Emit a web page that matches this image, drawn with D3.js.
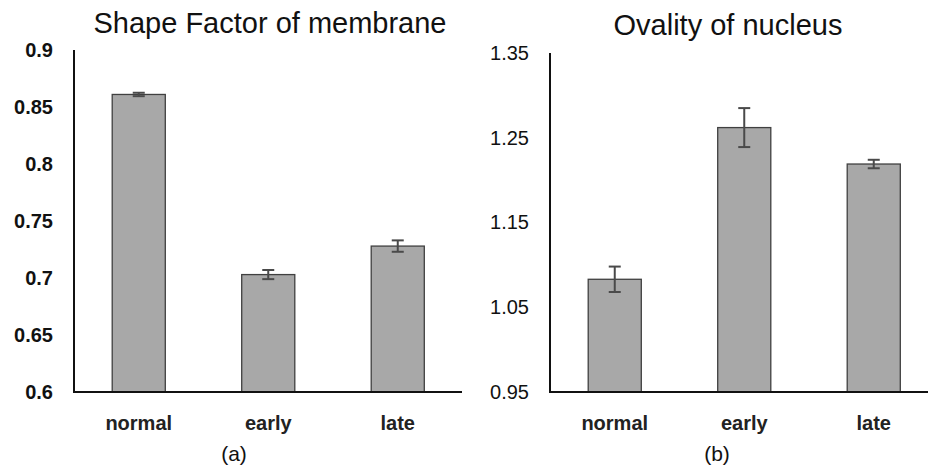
<!DOCTYPE html>
<html>
<head>
<meta charset="utf-8">
<script src="https://cdn.jsdelivr.net/npm/d3@7"></script>
<style>
  body { margin: 0; background: #fff; }
  svg { display: block; font-family: "Liberation Sans", Arial, sans-serif; }
</style>
</head>
<body>
<script>
// data
var categories = ["normal", "early", "late"];

var shapeValues = [0.861, 0.703, 0.728];
var shapeErrors = [0.0015, 0.004, 0.005];
var shapeTicks = [0.6, 0.65, 0.7, 0.75, 0.8, 0.85, 0.9];

var ovalValues = [1.083, 1.262, 1.219];
var ovalErrors = [0.015, 0.023, 0.005];
var ovalTicks = [0.95, 1.05, 1.15, 1.25, 1.35];

var svg = d3.select("body").append("svg")
    .attr("width", 928)
    .attr("height", 468);

function drawPanel(opt) {
  var x = d3.scaleBand()
      .domain(categories)
      .range([opt.left, opt.left + 388.5])
      .paddingInner(0.59)
      .paddingOuter(0.295);

  var y = d3.scaleLinear()
      .domain(opt.domain)
      .range([392, opt.top]);

  var g = svg.append("g");

  // title
  g.append("text")
      .attr("x", opt.titleX)
      .attr("y", opt.titleY)
      .attr("text-anchor", "middle")
      .style("font-size", "29px")
      .attr("fill", "#111")
      .text(opt.title);

  // y axis, labels only
  var yAxis = g.append("g")
      .attr("transform", "translate(" + opt.left + ",0)")
      .call(d3.axisLeft(y).tickValues(opt.ticks).tickSize(0).tickPadding(21)
        .tickFormat(function(d) { return String(+d.toFixed(2)); }));
  yAxis.select(".domain").remove();
  yAxis.selectAll("text")
      .style("font-size", opt.tickSize)
      .style("font-weight", opt.tickWeight)
      .attr("fill", "#111");

  // bars
  g.selectAll(".bar")
    .data(opt.values)
    .enter().append("rect")
      .attr("class", "bar")
      .attr("x", function(d, i) { return x(categories[i]); })
      .attr("y", function(d) { return y(d); })
      .attr("width", x.bandwidth())
      .attr("height", function(d) { return y(opt.domain[0]) - y(d); })
      .attr("fill", "#a8a8a8")
      .attr("stroke", "#404040")
      .attr("stroke-width", 1.3);

  // error bars
  var eb = g.selectAll(".err")
    .data(opt.values)
    .enter().append("g")
      .attr("class", "err")
      .attr("stroke", "#4a4a4a")
      .attr("stroke-width", 2);
  eb.append("line")
      .attr("x1", function(d, i) { return x(categories[i]) + x.bandwidth() / 2; })
      .attr("x2", function(d, i) { return x(categories[i]) + x.bandwidth() / 2; })
      .attr("y1", function(d, i) { return y(d + opt.errors[i]); })
      .attr("y2", function(d, i) { return y(d - opt.errors[i]); });
  [1, -1].forEach(function(s) {
    eb.append("line")
        .attr("x1", function(d, i) { return x(categories[i]) + x.bandwidth() / 2 - 6; })
        .attr("x2", function(d, i) { return x(categories[i]) + x.bandwidth() / 2 + 6; })
        .attr("y1", function(d, i) { return y(d + s * opt.errors[i]); })
        .attr("y2", function(d, i) { return y(d + s * opt.errors[i]); });
  });

  // axis lines
  g.append("line")
      .attr("x1", opt.left).attr("x2", opt.left)
      .attr("y1", opt.top).attr("y2", 392)
      .attr("stroke", "#111").attr("stroke-width", 2);
  g.append("line")
      .attr("x1", opt.left - 1).attr("x2", opt.xEnd)
      .attr("y1", 392).attr("y2", 392)
      .attr("stroke", "#111").attr("stroke-width", 2);

  // category labels
  g.selectAll(".cat")
    .data(categories)
    .enter().append("text")
      .attr("class", "cat")
      .attr("x", function(d) { return x(d) + x.bandwidth() / 2; })
      .attr("y", 430)
      .attr("text-anchor", "middle")
      .style("font-size", "20px")
      .style("font-weight", "bold")
      .attr("fill", "#222")
      .text(function(d) { return d; });

  // panel letter
  g.append("text")
      .attr("x", opt.letterX)
      .attr("y", 461)
      .attr("text-anchor", "middle")
      .style("font-size", "21px")
      .attr("fill", "#111")
      .text(opt.letter);
}

drawPanel({
  title: "Shape Factor of membrane", titleX: 270, titleY: 33,
  left: 74, top: 50, xEnd: 462,
  domain: [0.6, 0.9], ticks: shapeTicks,
  values: shapeValues, errors: shapeErrors,
  tickSize: "20px", tickWeight: "bold",
  letter: "(a)", letterX: 234
});

drawPanel({
  title: "Ovality of nucleus", titleX: 728, titleY: 35,
  left: 550, top: 53, xEnd: 928,
  domain: [0.95, 1.35], ticks: ovalTicks,
  values: ovalValues, errors: ovalErrors,
  tickSize: "20px", tickWeight: "normal",
  letter: "(b)", letterX: 717
});
</script>
</body>
</html>
